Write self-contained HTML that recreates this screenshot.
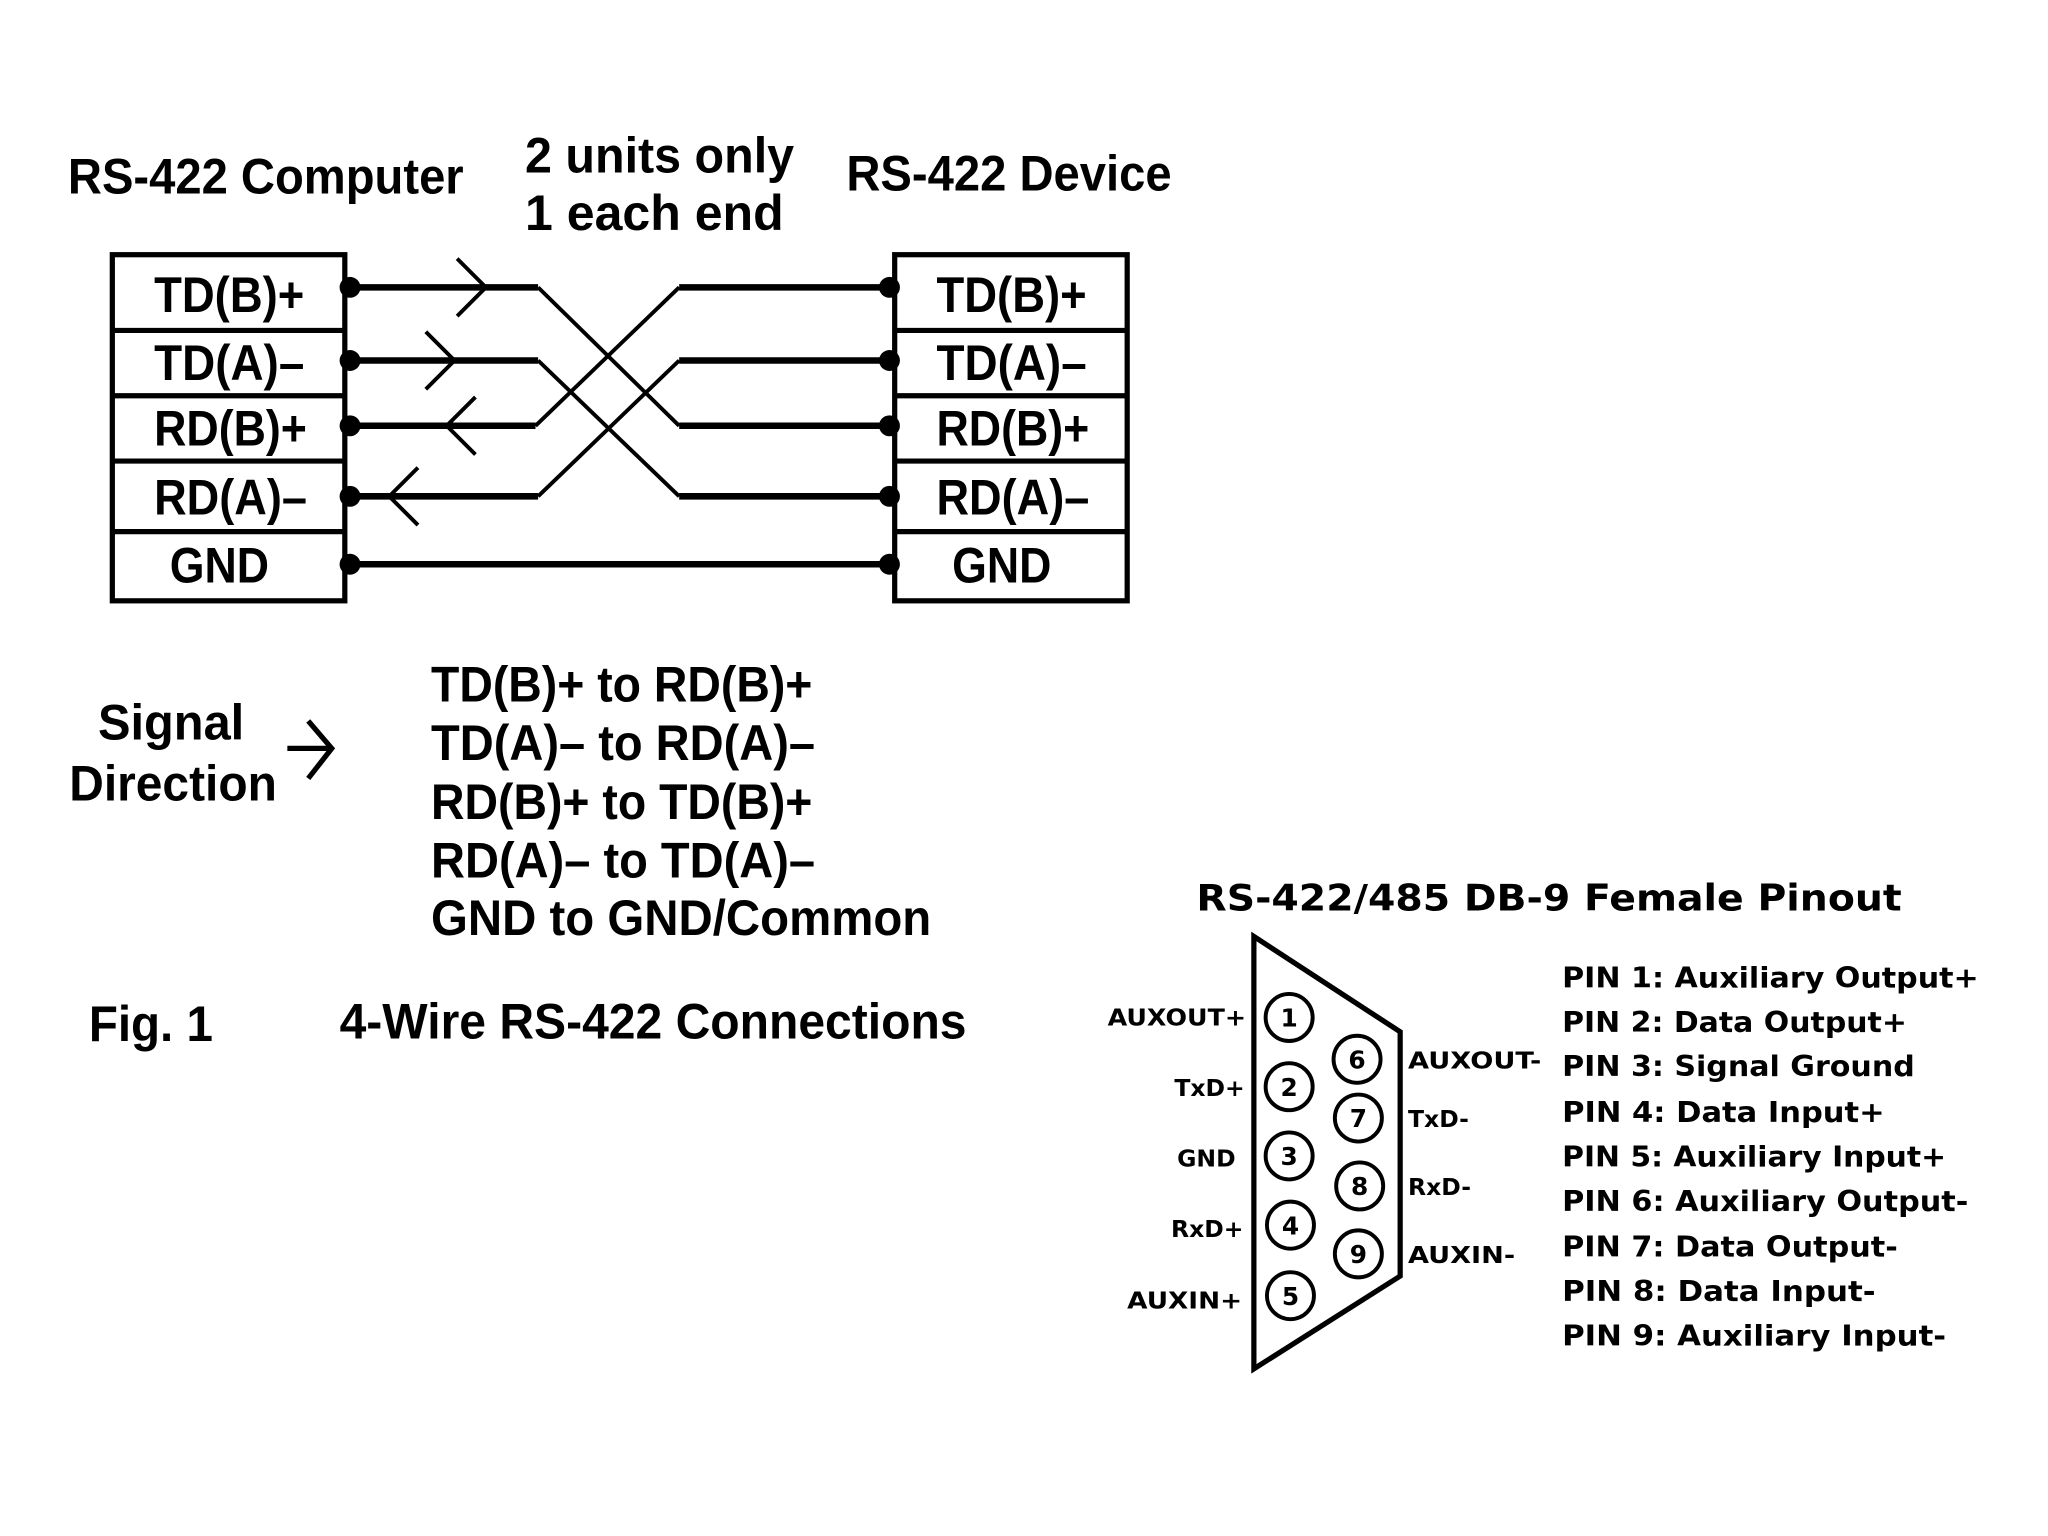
<!DOCTYPE html>
<html><head><meta charset="utf-8"><style>
html,body{margin:0;padding:0;background:#fff;}
svg{display:block;}
.n{font-family:"Liberation Sans Narrow","Liberation Sans",sans-serif;font-weight:bold;fill:#000;}
.v{font-family:"DejaVu Sans","Liberation Sans",sans-serif;font-weight:bold;fill:#000;}
</style></head><body>
<svg width="2048" height="1536" viewBox="0 0 1568 1176" xmlns="http://www.w3.org/2000/svg">
<rect width="1568" height="1176" fill="#fff"/>
<text class="n" x="52" y="148" font-size="38" textLength="303" lengthAdjust="spacingAndGlyphs">RS-422 Computer</text>
<text class="n" x="402" y="132" font-size="38" textLength="206" lengthAdjust="spacingAndGlyphs">2 units only</text>
<text class="n" x="402" y="176" font-size="38" textLength="198" lengthAdjust="spacingAndGlyphs">1 each end</text>
<text class="n" x="648" y="146" font-size="38" textLength="249" lengthAdjust="spacingAndGlyphs">RS-422 Device</text>
<g fill="none" stroke="#000" stroke-width="4">
<rect x="86" y="195" width="178" height="265"/>
<rect x="685" y="195" width="178" height="265"/>
<path d="M86 253H264M86 303H264M86 353H264M86 407H264M685 253H863M685 303H863M685 353H863M685 407H863"/>
</g>
<g class="n" font-size="38" lengthAdjust="spacingAndGlyphs">
<text x="118" y="239" textLength="115" lengthAdjust="spacingAndGlyphs">TD(B)+</text>
<text x="118" y="291" textLength="115" lengthAdjust="spacingAndGlyphs">TD(A)–</text>
<text x="118" y="341" textLength="117" lengthAdjust="spacingAndGlyphs">RD(B)+</text>
<text x="118" y="394" textLength="117" lengthAdjust="spacingAndGlyphs">RD(A)–</text>
<text x="130" y="446" textLength="76" lengthAdjust="spacingAndGlyphs">GND</text>
<text x="717" y="239" textLength="115" lengthAdjust="spacingAndGlyphs">TD(B)+</text>
<text x="717" y="291" textLength="115" lengthAdjust="spacingAndGlyphs">TD(A)–</text>
<text x="717" y="341" textLength="117" lengthAdjust="spacingAndGlyphs">RD(B)+</text>
<text x="717" y="394" textLength="117" lengthAdjust="spacingAndGlyphs">RD(A)–</text>
<text x="729" y="446" textLength="76" lengthAdjust="spacingAndGlyphs">GND</text>
</g>
<g fill="none" stroke="#000" stroke-width="5">
<path d="M268 220H412M268 276H412M268 326H410M268 380H412M268 432H682"/>
<path d="M520 220H682M520 276H682M520 326H682M520 380H682"/>
</g>
<g fill="none" stroke="#000" stroke-width="3">
<path d="M412 220L520 326M412 276L520 380M410 326L520 220M412 380L520 276"/>
<path d="M350 198L372 220L350 242M326 254L348 276L326 298M364 304L342 326L364 348M320 358L298 380L320 402"/>
</g>
<path d="M220 573H252M236 552L254 573L236 596" fill="none" stroke="#000" stroke-width="4"/>
<g fill="#000">
<circle cx="268" cy="220" r="8"/><circle cx="268" cy="276" r="8"/><circle cx="268" cy="326" r="8"/><circle cx="268" cy="380" r="8"/><circle cx="268" cy="432" r="8"/>
<circle cx="681" cy="220" r="8"/><circle cx="681" cy="276" r="8"/><circle cx="681" cy="326" r="8"/><circle cx="681" cy="380" r="8"/><circle cx="681" cy="432" r="8"/>
</g>
<text class="n" x="75" y="566" font-size="38" textLength="112" lengthAdjust="spacingAndGlyphs">Signal</text>
<text class="n" x="53" y="613" font-size="38" textLength="159" lengthAdjust="spacingAndGlyphs">Direction</text>
<g class="n" font-size="38">
<text x="330" y="537" textLength="292" lengthAdjust="spacingAndGlyphs">TD(B)+ to RD(B)+</text>
<text x="330" y="582" textLength="294" lengthAdjust="spacingAndGlyphs">TD(A)– to RD(A)–</text>
<text x="330" y="627" textLength="292" lengthAdjust="spacingAndGlyphs">RD(B)+ to TD(B)+</text>
<text x="330" y="672" textLength="294" lengthAdjust="spacingAndGlyphs">RD(A)– to TD(A)–</text>
<text x="330" y="716" textLength="383" lengthAdjust="spacingAndGlyphs">GND to GND/Common</text>
<text x="68" y="797" textLength="95" lengthAdjust="spacingAndGlyphs">Fig. 1</text>
<text x="260" y="795" textLength="480" lengthAdjust="spacingAndGlyphs">4-Wire RS-422 Connections</text>
</g>
<text class="v" x="916" y="697" font-size="28" textLength="540" lengthAdjust="spacingAndGlyphs">RS-422/485 DB-9 Female Pinout</text>
<path d="M960 717L1072 790V977L960 1048Z" fill="none" stroke="#000" stroke-width="4"/>
<g fill="none" stroke="#000" stroke-width="3">
<circle cx="987" cy="779" r="18"/><circle cx="987" cy="832" r="18"/><circle cx="987" cy="885" r="18"/><circle cx="988" cy="938" r="18"/><circle cx="988" cy="992" r="18"/>
<circle cx="1039" cy="811" r="18"/><circle cx="1040" cy="856" r="18"/><circle cx="1041" cy="908" r="18"/><circle cx="1040" cy="960" r="18"/>
</g>
<g class="v" font-size="19" text-anchor="middle">
<text x="987" y="786">1</text><text x="987" y="839">2</text><text x="987" y="892">3</text><text x="988" y="945">4</text><text x="988" y="999">5</text>
<text x="1039" y="818">6</text><text x="1040" y="863">7</text><text x="1041" y="915">8</text><text x="1040" y="967">9</text>
</g>
<g class="v" font-size="18" text-anchor="end">
<text x="954" y="785" textLength="106" lengthAdjust="spacingAndGlyphs">AUXOUT+</text>
<text x="953" y="839">TxD+</text>
<text x="946" y="893">GND</text>
<text x="952" y="947">RxD+</text>
<text x="951" y="1002" textLength="88" lengthAdjust="spacingAndGlyphs">AUXIN+</text>
</g>
<g class="v" font-size="18">
<text x="1078" y="818" textLength="102" lengthAdjust="spacingAndGlyphs">AUXOUT-</text>
<text x="1078" y="863">TxD-</text>
<text x="1078" y="915">RxD-</text>
<text x="1078" y="967" textLength="82" lengthAdjust="spacingAndGlyphs">AUXIN-</text>
</g>
<g class="v" font-size="22">
<text x="1196" y="756" textLength="319" lengthAdjust="spacingAndGlyphs">PIN 1: Auxiliary Output+</text>
<text x="1196" y="790" textLength="264" lengthAdjust="spacingAndGlyphs">PIN 2: Data Output+</text>
<text x="1196" y="824" textLength="270" lengthAdjust="spacingAndGlyphs">PIN 3: Signal Ground</text>
<text x="1196" y="859" textLength="247" lengthAdjust="spacingAndGlyphs">PIN 4: Data Input+</text>
<text x="1196" y="893" textLength="294" lengthAdjust="spacingAndGlyphs">PIN 5: Auxiliary Input+</text>
<text x="1196" y="927" textLength="311" lengthAdjust="spacingAndGlyphs">PIN 6: Auxiliary Output-</text>
<text x="1196" y="962" textLength="257" lengthAdjust="spacingAndGlyphs">PIN 7: Data Output-</text>
<text x="1196" y="996" textLength="240" lengthAdjust="spacingAndGlyphs">PIN 8: Data Input-</text>
<text x="1196" y="1030" textLength="294" lengthAdjust="spacingAndGlyphs">PIN 9: Auxiliary Input-</text>
</g>
</svg>
</body></html>
